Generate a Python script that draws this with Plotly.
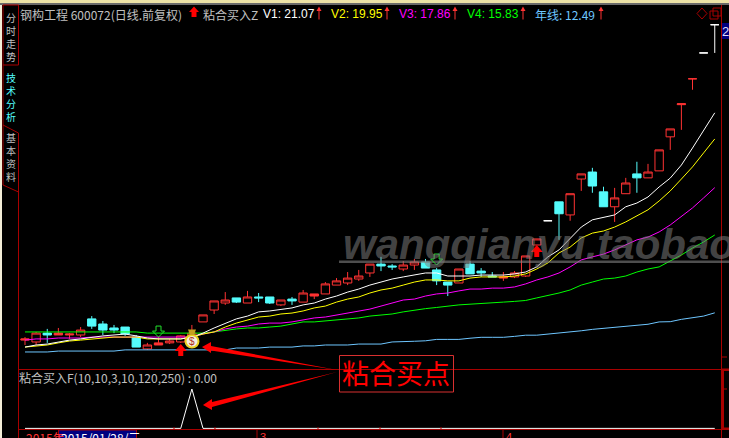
"""Stock chart recreation: 600072 daily candles, moving averages and the 粘合买入 signal."""
import plotly.graph_objects as go

W, H = 729, 438
RED = "#ff3333"
DARK_RED = "#a80000"
CYAN = "#54fcfc"
GRAY = "#c0c0c0"
CJK = "Noto Sans CJK SC"
LATIN = "Liberation Sans"

# one row per trading day, prices
opens = [11.32, 11.24, 11.62, 11.54, 11.54, 11.54, 12.23, 12.01, 11.84, 11.88, 11.45, 10.94, 11.11,
         11.20, 11.24, 11.32, 12.10, 12.61, 12.91, 13.13, 12.91, 13.17, 13.17, 12.83, 13.08, 12.95,
         13.21, 13.30, 13.68, 13.77, 13.94, 14.20, 14.58, 14.50, 14.37, 14.54, 14.67, 14.33, 13.81,
         13.77, 14.58, 14.28, 14.07, 13.98, 14.03, 14.07, 15.40, 16.44, 17.25, 16.69, 18.23, 18.53,
         17.68, 17.04, 17.60, 18.45, 18.28, 18.58, 20.04, 21.42, 22.53, 23.64, 24.85]
closes = [11.37, 11.62, 11.54, 11.62, 11.58, 11.75, 11.92, 11.75, 11.75, 11.58, 11.02, 11.11, 11.20,
          11.28, 11.50, 11.62, 12.40, 13.00, 13.04, 12.95, 13.17, 13.13, 12.91, 13.04, 13.00, 13.34,
          13.30, 13.73, 13.86, 13.98, 14.07, 14.58, 14.50, 14.46, 14.54, 14.67, 14.41, 13.86, 13.68,
          14.37, 14.16, 14.20, 14.03, 14.03, 14.20, 14.93, 15.66, 16.44, 16.74, 17.60, 18.45, 17.93,
          17.04, 17.42, 18.06, 18.28, 18.53, 19.48, 20.38, 21.46, 22.53, 23.64, 24.85]
highs = [11.45, 11.67, 11.80, 11.84, 11.62, 11.88, 12.35, 12.14, 11.97, 11.88, 11.54, 11.20, 11.45,
         11.37, 11.54, 11.97, 12.40, 13.00, 13.38, 13.13, 13.43, 13.34, 13.17, 13.04, 13.17, 13.47,
         13.30, 13.81, 13.98, 14.24, 14.33, 14.58, 14.89, 14.58, 14.71, 14.80, 14.80, 14.41, 13.81,
         14.37, 14.71, 14.41, 14.24, 14.24, 14.28, 14.93, 15.66, 16.44, 17.25, 17.60, 18.45, 18.71,
         17.90, 17.85, 18.28, 18.97, 18.88, 19.48, 20.38, 21.46, 22.53, 23.64, 24.85]
lows = [11.11, 11.11, 11.20, 11.54, 11.37, 11.45, 11.80, 11.54, 11.62, 11.50, 11.02, 10.90, 11.11,
        11.15, 11.20, 11.24, 12.10, 12.44, 12.83, 12.91, 12.91, 12.95, 12.87, 12.78, 12.83, 12.95,
        13.08, 13.30, 13.68, 13.68, 13.86, 14.03, 14.28, 14.33, 14.28, 14.33, 14.41, 13.68, 13.21,
        13.77, 14.16, 14.03, 14.03, 13.86, 13.98, 14.03, 15.40, 16.44, 15.62, 16.44, 17.72, 17.64,
        17.04, 16.39, 17.60, 17.64, 18.28, 18.58, 19.48, 20.34, 22.06, 23.64, 23.64]
# candles whose body is only a thick red dash, and the white limit-up dashes
flat_red_days = [0, 3, 4, 12, 26, 43, 59, 60]
flat_white_days = [47, 61, 62]

v1 = [11.02, 11.11, 11.15, 11.24, 11.32, 11.37, 11.45, 11.50, 11.54, 11.58, 11.50, 11.41, 11.37,
      11.37, 11.37, 11.45, 11.62, 11.84, 12.05, 12.23, 12.35, 12.53, 12.57, 12.65, 12.70, 12.83,
      12.91, 13.08, 13.21, 13.38, 13.51, 13.68, 13.81, 13.94, 14.03, 14.11, 14.20, 14.20, 14.07,
      14.07, 14.07, 14.11, 14.11, 14.11, 14.16, 14.24, 14.46, 14.89, 15.19, 15.70, 16.17, 16.48,
      16.60, 16.69, 17.04, 17.20, 17.46, 17.89, 18.27, 18.83, 19.56, 20.33, 21.07]
v2 = [11.02, 11.07, 11.11, 11.20, 11.28, 11.32, 11.37, 11.41, 11.45, 11.45, 11.45, 11.37, 11.37,
      11.37, 11.37, 11.45, 11.58, 11.67, 11.88, 12.05, 12.18, 12.31, 12.35, 12.44, 12.48, 12.57,
      12.70, 12.78, 12.95, 13.08, 13.17, 13.34, 13.47, 13.55, 13.68, 13.81, 13.90, 13.90, 13.86,
      13.86, 13.98, 14.03, 14.03, 14.03, 14.07, 14.16, 14.37, 14.63, 15.06, 15.31, 15.70, 15.91,
      16.00, 16.17, 16.39, 16.64, 16.91, 17.29, 17.72, 18.23, 18.75, 19.35, 19.95]
v3 = [11.32, 11.37, 11.37, 11.41, 11.41, 11.41, 11.45, 11.45, 11.45, 11.45, 11.45, 11.45, 11.45,
      11.45, 11.45, 11.45, 11.58, 11.67, 11.80, 11.88, 11.92, 12.01, 12.05, 12.05, 12.10, 12.18,
      12.27, 12.31, 12.40, 12.48, 12.57, 12.65, 12.78, 12.91, 13.04, 13.08, 13.21, 13.30, 13.34,
      13.43, 13.51, 13.51, 13.55, 13.55, 13.60, 13.73, 13.90, 14.03, 14.20, 14.46, 14.76, 14.89,
      15.01, 15.19, 15.40, 15.62, 15.74, 15.96, 16.26, 16.64, 16.99, 17.42, 17.86]
v4 = [11.67, 11.67, 11.67, 11.67, 11.67, 11.67, 11.67, 11.67, 11.67, 11.67, 11.67, 11.62, 11.62,
      11.62, 11.62, 11.62, 11.62, 11.67, 11.75, 11.80, 11.84, 11.84, 11.88, 11.92, 12.01, 12.10,
      12.10, 12.14, 12.18, 12.23, 12.27, 12.35, 12.40, 12.44, 12.53, 12.61, 12.67, 12.72, 12.78,
      12.83, 12.86, 12.90, 12.91, 12.95, 12.98, 13.02, 13.13, 13.23, 13.34, 13.47, 13.68, 13.81,
      13.94, 13.98, 14.07, 14.24, 14.37, 14.46, 14.71, 14.97, 15.27, 15.53, 15.83]
year_line = [10.81, 10.81, 10.81, 10.85, 10.85, 10.85, 10.85, 10.85, 10.85, 10.90, 10.90, 10.90, 10.90,
             10.90, 10.90, 10.90, 10.90, 10.90, 10.90, 10.98, 10.98, 10.98, 11.02, 11.02, 11.02, 11.07,
             11.07, 11.11, 11.11, 11.11, 11.15, 11.15, 11.15, 11.24, 11.27, 11.27, 11.29, 11.35, 11.35,
             11.35, 11.40, 11.44, 11.44, 11.44, 11.48, 11.53, 11.53, 11.57, 11.61, 11.65, 11.72, 11.78,
             11.83, 11.87, 11.91, 11.96, 12.00, 12.10, 12.11, 12.21, 12.28, 12.35, 12.49]
signal = [0] * 15 + [1] + [0] * 47

days = list(range(len(opens)))
buy_arrows = [(14, 10.64), (46, 14.89)]   # day, price of the arrow's foot
hold_arrows = [(12, 11.45), (37, 14.54)]  # day, price of the arrow's tip

header_items = [
    ("钢构工程 600072(日线.前复权)", 18.5, GRAY),
    ("粘合买入Z", 202, GRAY),
    ("V1: 21.07", 262, "#ffffff"),
    ("V2: 19.95", 330, "#ffff00"),
    ("V3: 17.86", 398, "#ff00ff"),
    ("V4: 15.83", 466, "#00ff00"),
    ("年线: 12.49", 534, "#6ec6ff"),
]
header_arrow_x = [319, 387, 455, 523, 601]
tabs = [("分<br>时<br>走<br>势", 37, GRAY), ("技<br>术<br>分<br>析", 97, CYAN), ("基<br>本<br>资<br>料", 157, GRAY)]
axis_ticks = [174, 215, 318, 380, 441]
axis_long_ticks = [(257, "3"), (503, "4")]


def fx(x):
    return x / W


def fy(y):
    return 1 - y / H


def line(x0, y0, x1, y1, color=DARK_RED, width=1):
    return dict(type="line", xref="paper", yref="paper", x0=fx(x0), y0=fy(y0), x1=fx(x1), y1=fy(y1),
                line=dict(color=color, width=width), layer="above")


def rect(x0, y0, x1, y1, fill, border=None, width=1):
    return dict(type="rect", xref="paper", yref="paper", x0=fx(x0), y0=fy(y0), x1=fx(x1), y1=fy(y1),
                fillcolor=fill, line=dict(color=border or fill, width=width if border else 0), layer="above")


def poly(points, fill, border=None):
    path = "M" + " L".join(f"{fx(x):.5f},{fy(y):.5f}" for x, y in points) + " Z"
    return dict(type="path", xref="paper", yref="paper", path=path, fillcolor=fill,
                line=dict(color=border or fill, width=1 if border else 0), layer="above")


def day_arrow(day, price, points, fill, border=None):
    # drawn in pixels around a (day, price) anchor
    path = "M" + " L".join(f"{x},{y}" for x, y in points) + " Z"
    return dict(type="path", xref="x", yref="y", xsizemode="pixel", ysizemode="pixel",
                xanchor=day, yanchor=price, path=path, fillcolor=fill,
                line=dict(color=border or fill, width=1 if border else 0), layer="above")


def label(text, x, y, color=GRAY, size=12, family=CJK, anchor="left", **font_kw):
    return dict(text=text, x=fx(x), y=fy(y), xref="paper", yref="paper", xanchor=anchor, yanchor="middle",
                showarrow=False, font=dict(color=color, size=size, family=family, **font_kw), borderpad=0)


def candles(idx, color, fill):
    return go.Candlestick(
        x=idx,
        open=[opens[i] for i in idx], high=[highs[i] for i in idx],
        low=[lows[i] for i in idx], close=[closes[i] for i in idx],
        increasing=dict(line=dict(color=color, width=1), fillcolor=fill),
        decreasing=dict(line=dict(color=color, width=1), fillcolor=fill),
        whiskerwidth=0, showlegend=False, hoverinfo="skip",
    )


flat = set(flat_red_days + flat_white_days)
up_days = [d for d in days if d not in flat and closes[d] >= opens[d]]
down_days = [d for d in days if d not in flat and closes[d] < opens[d]]

fig = go.Figure()
fig.add_trace(candles(up_days, RED, "rgba(0,0,0,0)"))
fig.add_trace(candles(down_days, CYAN, CYAN))
fig.add_trace(candles(flat_red_days, RED, RED))
fig.add_trace(candles(flat_white_days, "#ffffff", "#ffffff"))

for values, color in [(year_line, "#6ec6ff"), (v4, "#00ff00"), (v3, "#ff00ff"), (v2, "#ffff00"), (v1, "#ffffff")]:
    fig.add_trace(go.Scatter(x=days, y=values, mode="lines", line=dict(color=color, width=1),
                             showlegend=False, hoverinfo="skip"))
fig.add_trace(go.Scatter(x=days, y=signal, yaxis="y2", mode="lines", line=dict(color="#ffffff", width=1),
                         showlegend=False, hoverinfo="skip"))

shapes = [
    rect(0, 0, 2, H, "#f3eed8"),
    rect(0, 0, W, 3, "#ece2a6"),
    rect(0, 3, W, 5, "#6a6a6a"),
    # left tabs and frame
    line(18.5, 5, 18.5, 65),
    line(3, 5, 18.5, 5),
    line(3, 65, 18.5, 65),
    line(3, 5, 3, 185),
    line(3, 125, 18.5, 133),
    line(18.5, 133, 18.5, H),
    line(3, 185, 18.5, 192),
    # panel frame
    line(18.5, 369.5, W, 369.5),
    line(18.5, 429.5, W, 429.5),
    line(721.5, 5, 721.5, H),
    rect(722, 370, 724, 429, DARK_RED),
    rect(722, 368.5, W, 371, DARK_RED),
    rect(722, 427.5, W, 430, DARK_RED),
    line(722, 357, 727, 357),
    line(722, 389, 727, 389),
    rect(722, 23, W, 39, "#000080"),
    # date box
    rect(58.5, 430, 136.5, 445, "#000080", DARK_RED),
    # window buttons
    poly([(702, 8), (707, 13.5), (702, 19), (697, 13.5)], "rgba(0,0,0,0)", DARK_RED),
    rect(710, 11, 718, 19, "rgba(0,0,0,0)", DARK_RED),
    rect(713, 8, 721, 16, "rgba(0,0,0,0)", DARK_RED),
    # callout box and its two wedge arrows
    rect(339.5, 355.5, 453.5, 392, "rgba(0,0,0,0)", "#d83030"),
    poly([(202, 347), (211, 342), (211, 346), (337, 370), (211, 350.5), (211, 353)], "#ff0000"),
    poly([(203, 405), (212, 399), (212, 402), (337, 372), (212, 407), (212, 410)], "#ff0000"),
    # watermark rule
    rect(339, 260.5, W, 263, "rgba(130,130,130,0.6)"),
]
for x in axis_ticks:
    shapes.append(line(x, 427, x, 429.5))
for x, _ in axis_long_ticks:
    shapes.append(line(x, 429.5, x, H))
for x in header_arrow_x:
    shapes.append(line(x, 10, x, 19.5, RED))
    shapes.append(poly([(x, 6.5), (x + 2.5, 11), (x - 2.5, 11)], RED))

# header arrow beside 粘合买入Z
shapes.append(poly([(194, 6.5), (199, 12), (196.5, 12), (196.5, 17), (191.5, 17), (191.5, 12), (189, 12)], "#ff0000"))

up_shape = [(0, 12), (-6, 5), (-2.5, 5), (-2.5, 0), (2.5, 0), (2.5, 5), (6, 5)]
for day, price in buy_arrows:
    shapes.append(day_arrow(day, price, up_shape, "#ff0000"))
down_shape = [(0, 0), (-6, 6), (-2.5, 6), (-2.5, 11), (2.5, 11), (2.5, 6), (6, 6)]
for day, price in hold_arrows:
    shapes.append(day_arrow(day, price, down_shape, "rgba(0,0,0,0)", "#22e02c"))

# money bag on the signal day
shapes.append(dict(type="circle", xref="paper", yref="paper", x0=fx(185.5), x1=fx(198.5), y0=fy(335), y1=fy(347.5),
                   fillcolor="#f4efe0", line=dict(color="#e8d020", width=2), layer="above"))
shapes.append(poly([(188, 329.5), (196, 329.5), (194, 335), (190, 335)], "#c8a020"))

annotations = [label(text, x, 14, color, family=LATIN if text.startswith("V") else CJK)
               for text, x, color in header_items]
for text, middle, color in tabs:
    annotations.append(label(text, 11, middle, color, size=10, anchor="center"))
annotations += [
    label("粘合买入F(10,10,3,10,120,250) : 0.00", 18, 377),
    label("粘合买点", 396.5, 372, "#ff0000", size=27, anchor="center"),
    label("wangqianyu.taobao", 342, 244, "rgba(125,125,125,0.55)", size=42, family=LATIN,
          weight="bold", style="italic"),
    label("$", 192, 341.5, "#b03020", size=10, family=LATIN, anchor="center"),
    label("2", 725.5, 31, "#dcdcff", size=13, family=LATIN, anchor="center"),
    label("2015年", 25, 437, RED, size=12),
    label("2015/01/28/三", 60, 437, "#ffffff", size=12),
]
for x, text in axis_long_ticks:
    annotations.append(label(text, x + 2, 437, RED, size=11, family=LATIN))

fig.update_layout(
    width=W, height=H, autosize=False,
    margin=dict(l=0, r=0, t=0, b=0),
    paper_bgcolor="#000000", plot_bgcolor="#000000",
    showlegend=False, boxgap=0.25, boxgroupgap=0,
    xaxis=dict(domain=[0, 1], range=[-2.247, 63.28], visible=False, rangeslider=dict(visible=False)),
    yaxis=dict(domain=[fy(369), fy(14)], range=[10.08, 25.31], visible=False),
    yaxis2=dict(domain=[fy(432), fy(370)], range=[-0.0916, 1.483], visible=False, anchor="x"),
    shapes=shapes, annotations=annotations,
)

fig.write_html("out.html", config=dict(displayModeBar=False), post_script="document.body.style.margin='0';")
